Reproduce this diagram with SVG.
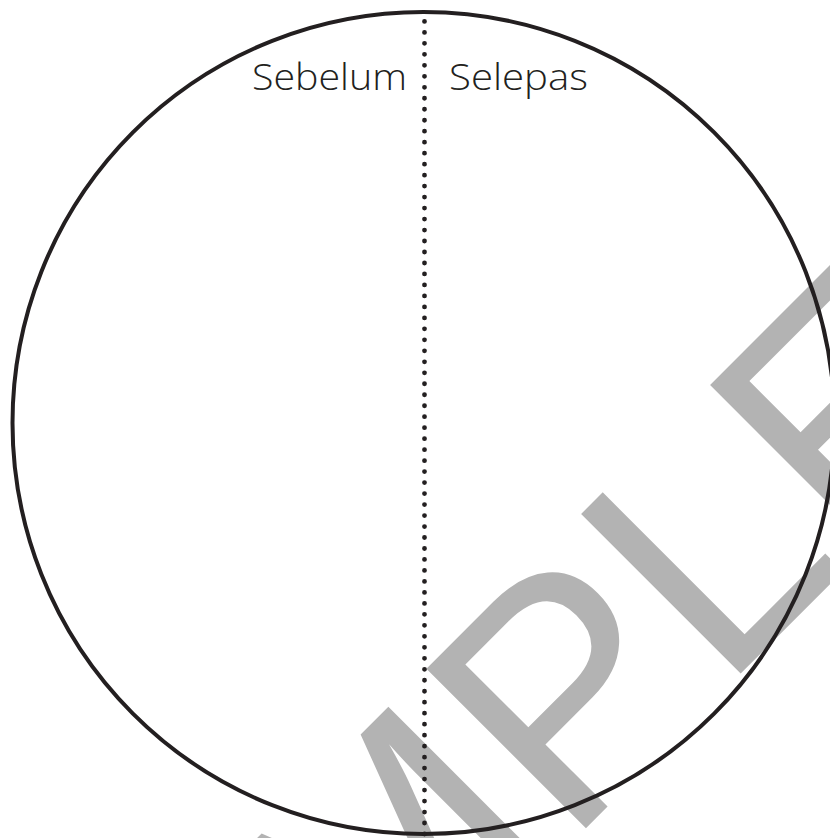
<svg xmlns="http://www.w3.org/2000/svg" width="830" height="838" viewBox="0 0 830 838">
<style>
.wm{font-family:"Liberation Sans",Arial,sans-serif;font-size:328px;fill:#b3b3b3}
.lbl{font-family:"Open Sans","Liberation Sans",sans-serif;font-size:37px;font-weight:300;fill:#231f20}
.ring{fill:none;stroke:#231f20;stroke-width:4}
.dots{fill:none;stroke:#231f20;stroke-width:4.8;stroke-linecap:round;stroke-dasharray:0 10.981}
</style>
<rect width="830" height="838" fill="#ffffff"/>
<g id="watermark">
<text class="wm" transform="rotate(-45)" x="-909" y="1000">SAMPLE</text>
</g>
<g id="circle">
<circle class="ring" cx="423.5" cy="423" r="411"/>
</g>
<g id="connectors">
<path class="dots" d="M424.5 21.4V834"/>
</g>
<g id="label-sebelum">
<text class="lbl" x="252" y="90" textLength="155" lengthAdjust="spacingAndGlyphs">Sebelum</text>
</g>
<g id="label-selepas">
<text class="lbl" x="449" y="90" textLength="139" lengthAdjust="spacingAndGlyphs">Selepas</text>
</g>
</svg>
